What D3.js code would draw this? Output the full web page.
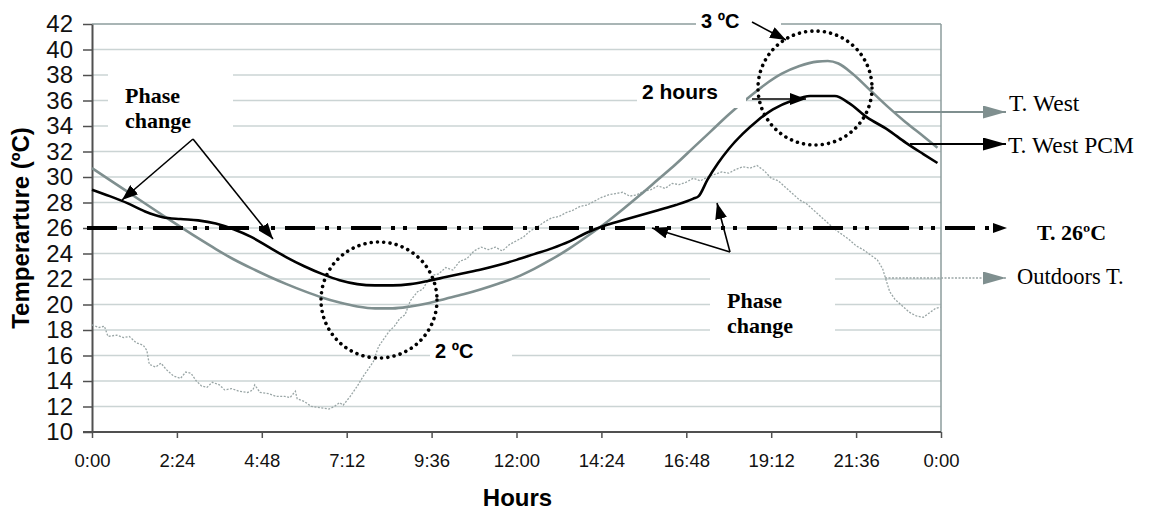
<!DOCTYPE html>
<html>
<head>
<meta charset="utf-8">
<script src="https://cdn.jsdelivr.net/npm/d3@7"></script>
<style>
  body { margin: 0; background: #fff; }
  svg { display: block; }
</style>
</head>
<body>
<svg id="chart" width="1153" height="511"></svg>
<script>
// ---- data (hours, temperature in ºC) ----
const xTickHours = [0, 2.4, 4.8, 7.2, 9.6, 12, 14.4, 16.8, 19.2, 21.6, 24];
const xTickLabels = ['0:00', '2:24', '4:48', '7:12', '9:36', '12:00', '14:24', '16:48', '19:12', '21:36', '0:00'];
const yTicks = [10, 12, 14, 16, 18, 20, 22, 24, 26, 28, 30, 32, 34, 36, 38, 40, 42];

const westTemp = [
  [0, 30.7], [1, 28.85], [2, 27.0], [3, 25.2], [3.5, 24.35], [4, 23.55], [4.5, 22.85], [5, 22.2],
  [5.5, 21.6], [6, 21.05], [6.5, 20.55], [7, 20.15], [7.5, 19.85], [8, 19.7], [8.5, 19.7], [9, 19.85],
  [9.5, 20.1], [10, 20.45], [10.5, 20.8], [11, 21.2], [11.5, 21.65], [12, 22.15], [12.5, 22.8], [13, 23.55],
  [13.5, 24.4], [14, 25.35], [14.5, 26.35], [15, 27.45], [15.5, 28.6], [16, 29.8], [16.5, 31.0], [17, 32.3],
  [17.5, 33.6], [18, 34.9], [18.5, 36.1], [19, 37.2], [19.5, 38.1], [20, 38.7], [20.5, 39.05], [20.8, 39.1],
  [21.1, 38.9], [21.5, 38.1], [22, 36.8], [22.5, 35.5], [23, 34.3], [23.5, 33.2], [23.9, 32.3]
];

const westPcmTemp = [
  [0, 29.0], [0.5, 28.5], [1, 27.95], [1.5, 27.3], [2, 26.85], [2.5, 26.7], [3, 26.6], [3.5, 26.35],
  [4, 25.9], [4.5, 25.3], [5, 24.5], [5.5, 23.7], [6, 23.0], [6.5, 22.4], [7, 21.9], [7.5, 21.6],
  [8, 21.5], [8.5, 21.5], [9, 21.6], [9.5, 21.85], [10, 22.15], [10.5, 22.45], [11, 22.75], [11.5, 23.1],
  [12, 23.5], [12.5, 23.95], [13, 24.4], [13.5, 24.95], [14, 25.65], [14.5, 26.2], [15, 26.6], [15.5, 27.0],
  [16, 27.4], [16.5, 27.8], [17, 28.3], [17.15, 28.5], [17.4, 29.8], [17.7, 31.1], [18, 32.2], [18.4, 33.4],
  [18.8, 34.4], [19.25, 35.3], [19.8, 36.0], [20.3, 36.35], [21.0, 36.35], [21.4, 35.8], [21.9, 34.7],
  [22.5, 33.7], [23, 32.7], [23.5, 31.8], [23.9, 31.1]
];

const outdoorsTemp = [
  [0, 18.4], [0.2, 18.2], [0.35, 18.3], [0.45, 17.5], [0.7, 17.6], [0.9, 17.4], [1.05, 17.5], [1.25, 17.0],
  [1.45, 16.8], [1.55, 16.4], [1.62, 15.3], [1.8, 15.1], [1.95, 15.4], [2.1, 14.9], [2.3, 14.4], [2.5, 14.2],
  [2.65, 14.7], [2.8, 14.6], [2.95, 14.0], [3.1, 13.6], [3.25, 13.5], [3.4, 13.9], [3.6, 13.7], [3.75, 13.3],
  [3.95, 13.4], [4.15, 13.2], [4.4, 13.1], [4.55, 13.3], [4.6, 13.7], [4.75, 13.1], [5.0, 13.0], [5.2, 12.8],
  [5.45, 12.8], [5.6, 12.7], [5.75, 13.2], [5.8, 12.6], [6.0, 12.4], [6.2, 12.0], [6.45, 11.9], [6.7, 11.8],
  [6.85, 12.0], [7.0, 12.3], [7.1, 12.1], [7.3, 12.8], [7.5, 13.6], [7.65, 14.3], [7.8, 14.9], [7.95, 15.5],
  [8.1, 16.7], [8.25, 17.3], [8.4, 17.9], [8.55, 18.3], [8.7, 18.9], [8.85, 19.2], [9.0, 20.3], [9.2, 21.0],
  [9.35, 21.2], [9.5, 21.9], [9.65, 22.3], [9.8, 22.4], [10.0, 22.9], [10.2, 22.7], [10.4, 23.4], [10.6, 23.6],
  [10.8, 24.2], [11.0, 24.5], [11.2, 24.3], [11.4, 24.5], [11.6, 24.2], [11.8, 24.7], [12.0, 25.0], [12.2, 25.3],
  [12.4, 25.8], [12.6, 26.1], [12.8, 26.5], [13.0, 26.8], [13.2, 26.9], [13.4, 27.2], [13.6, 27.4], [13.8, 27.7],
  [14.0, 27.8], [14.2, 28.1], [14.4, 28.4], [14.6, 28.6], [14.8, 28.7], [15.0, 28.8], [15.2, 28.5], [15.4, 28.6],
  [15.6, 28.9], [15.8, 29.0], [16.0, 29.3], [16.2, 29.1], [16.4, 29.5], [16.6, 29.4], [16.8, 29.6], [17.0, 29.9],
  [17.2, 29.7], [17.4, 30.0], [17.6, 30.2], [17.8, 30.4], [18.0, 30.3], [18.2, 30.6], [18.4, 30.8], [18.6, 30.7],
  [18.8, 30.9], [19.0, 30.5], [19.2, 29.9], [19.4, 29.7], [19.6, 29.2], [19.8, 28.7], [20.0, 28.2], [20.2, 27.9],
  [20.4, 27.4], [20.6, 26.9], [20.8, 26.4], [21.0, 25.9], [21.2, 25.5], [21.4, 25.1], [21.6, 24.6], [21.8, 24.3],
  [22.0, 23.9], [22.2, 23.5], [22.35, 22.8], [22.45, 21.9], [22.55, 21.0], [22.7, 20.4], [22.9, 19.9], [23.1, 19.4],
  [23.3, 19.1], [23.5, 19.0], [23.7, 19.4], [23.85, 19.7], [24.0, 19.8]
];

const limitTemp = 26;

// ---- layout ----
const x = d3.scaleLinear().domain([0, 24]).range([92, 941]);
const y = d3.scaleLinear().domain([10, 42]).range([432, 24]);

const svg = d3.select('#chart');
const sans = '"Liberation Sans", Arial, sans-serif';
const serif = '"Liberation Serif", "Times New Roman", serif';

const defs = svg.append('defs');
function addMarker(id, color, len, wid) {
  defs.append('marker')
    .attr('id', id)
    .attr('viewBox', '0 0 10 10')
    .attr('refX', 10).attr('refY', 5)
    .attr('markerWidth', len).attr('markerHeight', wid)
    .attr('markerUnits', 'userSpaceOnUse')
    .attr('preserveAspectRatio', 'none')
    .attr('orient', 'auto')
    .append('path').attr('d', 'M0,0L10,5L0,10Z').attr('fill', color);
}
addMarker('head', '#000', 16, 12);
addMarker('headBig', '#000', 23, 13);
addMarker('headGray', '#7f8f8f', 23, 13);
addMarker('headSmall', '#000', 14, 10);

// gridlines
svg.append('g').selectAll('line')
  .data(yTicks.filter(d => d > 10 && d < 42))
  .enter().append('line')
    .attr('x1', x(0)).attr('x2', x(24))
    .attr('y1', d => y(d)).attr('y2', d => y(d))
    .attr('stroke', '#cbd4d4').attr('stroke-width', 1.5);

// top and right frame
svg.append('line')
  .attr('x1', x(0)).attr('x2', x(24)).attr('y1', y(42)).attr('y2', y(42))
  .attr('stroke', '#8d9c9c').attr('stroke-width', 1.5);
svg.append('line')
  .attr('x1', x(24)).attr('x2', x(24)).attr('y1', y(42)).attr('y2', y(10))
  .attr('stroke', '#8d9c9c').attr('stroke-width', 1.5);

// axes
const yAxis = svg.append('g')
  .attr('transform', `translate(${x(0)},0)`)
  .call(d3.axisLeft(y).tickValues(yTicks).tickSize(9).tickSizeOuter(0).tickPadding(10));
yAxis.selectAll('text').attr('font-family', sans).attr('font-size', 24).attr('fill', '#111');

const xAxis = svg.append('g')
  .attr('transform', `translate(0,${y(10)})`)
  .call(d3.axisBottom(x).tickValues(xTickHours).tickFormat((d, i) => xTickLabels[i])
    .tickSize(6).tickSizeOuter(0).tickPadding(16));
xAxis.selectAll('text').attr('font-family', sans).attr('font-size', 18.5).attr('fill', '#111');

[yAxis, xAxis].forEach(g => {
  g.select('.domain').attr('stroke', '#505050').attr('stroke-width', 2);
  g.selectAll('.tick line').attr('stroke', '#505050').attr('stroke-width', 1.5);
});
xAxis.select('.domain').attr('d', `M${x(0) - 9},0H${x(24)}`);

// series
const smooth = d3.line().x(d => x(d[0])).y(d => y(d[1])).curve(d3.curveMonotoneX);
const straight = d3.line().x(d => x(d[0])).y(d => y(d[1]));

svg.append('path').datum(outdoorsTemp)
  .attr('d', straight).attr('fill', 'none')
  .attr('stroke', '#9aa6a6').attr('stroke-width', 1.3).attr('stroke-dasharray', '2,1.5');

svg.append('path').datum(westTemp)
  .attr('d', smooth).attr('fill', 'none')
  .attr('stroke', '#7f8f8f').attr('stroke-width', 2.6);

svg.append('path').datum(westPcmTemp)
  .attr('d', smooth).attr('fill', 'none')
  .attr('stroke', '#000').attr('stroke-width', 2.6);

// 26 ºC limit line
svg.append('line')
  .attr('x1', x(0) - 5).attr('x2', 1007)
  .attr('y1', y(limitTemp)).attr('y2', y(limitTemp))
  .attr('stroke', '#000').attr('stroke-width', 4)
  .attr('stroke-dasharray', '30,10,4,8,4,10')
  .attr('marker-end', 'url(#headSmall)');

// white label boxes that cut the grid
const boxes = [
  [108, 68, 125, 64],
  [637, 84, 109, 24],
  [696, 8, 85, 26],
  [430, 340, 82, 22],
  [710, 272, 125, 70]
];
svg.append('g').selectAll('rect').data(boxes).enter().append('rect')
  .attr('x', d => d[0]).attr('y', d => d[1]).attr('width', d => d[2]).attr('height', d => d[3])
  .attr('fill', '#fff');

// dotted circles
[[379, 300, 58], [815, 88, 57]].forEach(c => {
  svg.append('circle')
    .attr('cx', c[0]).attr('cy', c[1]).attr('r', c[2])
    .attr('fill', 'none').attr('stroke', '#000').attr('stroke-width', 3.6)
    .attr('stroke-linecap', 'round').attr('stroke-dasharray', '0.01,6.3');
});

// annotation arrows
const arrows = [
  [193, 139, 122, 200],
  [193, 139, 273, 239],
  [730, 252, 652, 228],
  [730, 252, 717, 203],
  [752, 99, 806, 99],
  [752, 22, 786, 40]
];
svg.append('g').selectAll('line').data(arrows).enter().append('line')
  .attr('x1', d => d[0]).attr('y1', d => d[1]).attr('x2', d => d[2]).attr('y2', d => d[3])
  .attr('stroke', '#000').attr('stroke-width', 1.6)
  .attr('marker-end', 'url(#head)');

// legend arrows
svg.append('line')
  .attr('x1', 893).attr('x2', 1006).attr('y1', 112).attr('y2', 112)
  .attr('stroke', '#7f8f8f').attr('stroke-width', 2)
  .attr('marker-end', 'url(#headGray)');
svg.append('line')
  .attr('x1', 910).attr('x2', 1006).attr('y1', 144).attr('y2', 144)
  .attr('stroke', '#000').attr('stroke-width', 2)
  .attr('marker-end', 'url(#headBig)');
svg.append('line')
  .attr('x1', 885).attr('x2', 1006).attr('y1', 278).attr('y2', 278)
  .attr('stroke', '#9aa6a6').attr('stroke-width', 1.6).attr('stroke-dasharray', '2,1.5')
  .attr('marker-end', 'url(#headGray)');

// texts
const labels = [
  { t: 'Phase', x: 125, y: 103, f: serif, s: 22, w: 'bold' },
  { t: 'change', x: 125, y: 128, f: serif, s: 22, w: 'bold' },
  { t: 'Phase', x: 727, y: 308, f: serif, s: 22, w: 'bold' },
  { t: 'change', x: 727, y: 333, f: serif, s: 22, w: 'bold' },
  { t: '2 hours', x: 642, y: 99, f: sans, s: 21, w: 'bold' },
  { t: '3 ºC', x: 701, y: 28, f: sans, s: 20, w: 'bold' },
  { t: '2 ºC', x: 435, y: 358, f: sans, s: 20, w: 'bold' },
  { t: 'T. West', x: 1009, y: 111, f: serif, s: 23.5, w: 'normal' },
  { t: 'T. West PCM', x: 1008, y: 153, f: serif, s: 23.5, w: 'normal' },
  { t: 'T. 26ºC', x: 1037, y: 240, f: serif, s: 22, w: 'bold' },
  { t: 'Outdoors T.', x: 1017, y: 284, f: serif, s: 22.5, w: 'normal' }
];
svg.append('g').selectAll('text').data(labels).enter().append('text')
  .attr('x', d => d.x).attr('y', d => d.y)
  .attr('font-family', d => d.f).attr('font-size', d => d.s).attr('font-weight', d => d.w)
  .attr('fill', '#000')
  .text(d => d.t);

// axis titles
svg.append('text')
  .attr('x', (x(0) + x(24)) / 2 + 1).attr('y', 506)
  .attr('text-anchor', 'middle')
  .attr('font-family', sans).attr('font-size', 24).attr('font-weight', 'bold')
  .text('Hours');
svg.append('text')
  .attr('transform', `translate(29,${(y(10) + y(42)) / 2}) rotate(-90)`)
  .attr('text-anchor', 'middle')
  .attr('font-family', sans).attr('font-size', 24).attr('font-weight', 'bold')
  .text('Temperarture (ºC)');
</script>
</body>
</html>
